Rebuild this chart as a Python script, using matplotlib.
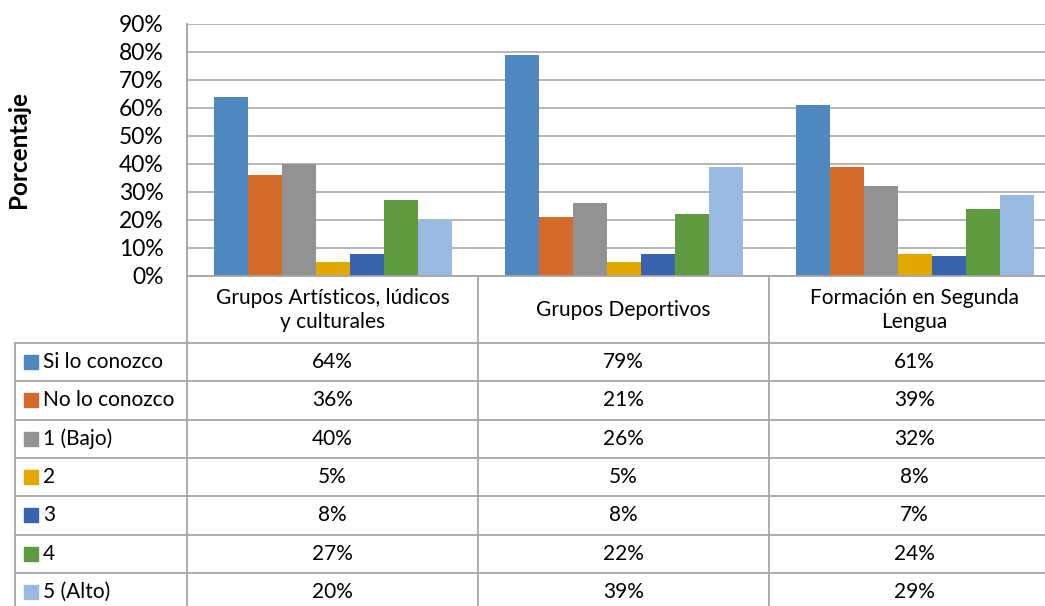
import matplotlib
matplotlib.use("Agg")
import matplotlib.pyplot as plt
import numpy as np

plt.rcParams['font.family'] = ['Lato', 'DejaVu Sans']

categories = ["Grupos Artísticos, lúdicos\ny culturales", "Grupos Deportivos",
              "Formación en Segunda\nLengua"]
series_names = ["Si lo conozco", "No lo conozco", "1 (Bajo)", "2", "3", "4", "5 (Alto)"]
si_lo_conozco = [64, 79, 61]
no_lo_conozco = [36, 21, 39]
nivel_1 = [40, 26, 32]
nivel_2 = [5, 5, 8]
nivel_3 = [8, 8, 7]
nivel_4 = [27, 22, 24]
nivel_5 = [20, 39, 29]
series_values = [si_lo_conozco, no_lo_conozco, nivel_1, nivel_2, nivel_3, nivel_4, nivel_5]
yticks = [0, 10, 20, 30, 40, 50, 60, 70, 80, 90]
colors = ["#4F88BE", "#D46B2B", "#929292", "#E3A800", "#3A63AD", "#5F9A40", "#98BAE0"]

W, H = 1045, 606
fig = plt.figure(figsize=(W / 100, H / 100), dpi=100)

# plot area in pixels
px_left, px_right, px_top, px_bot = 187, 1060, 24, 276
ax = fig.add_axes([px_left / W, 1 - px_bot / H, (px_right - px_left) / W, (px_bot - px_top) / H])
n_cat = len(categories)
n_ser = len(series_names)
bw = 34 / 291
x = np.arange(n_cat)
for i, (vals, c) in enumerate(zip(series_values, colors)):
    ax.bar(x + (i - (n_ser - 1) / 2) * bw, vals, width=bw, color=c, zorder=3,
           edgecolor='none')
ax.set_xlim(-0.5, n_cat - 0.5)
ax.set_ylim(0, 90)
ax.set_yticks(yticks)
ax.set_yticklabels([f"{v}%" for v in yticks], fontsize=16.5, color='black')
ax.tick_params(axis='y', length=0, pad=17)
ax.set_xticks([])
ax.grid(axis='y', color='#B0B0B0', linewidth=1.3, zorder=0)
for s in ['top', 'right', 'bottom']:
    ax.spines[s].set_visible(False)
ax.spines['left'].set_color('#A0A0A0')
ax.spines['left'].set_linewidth(1.3)
ax.set_ylabel("Porcentaje", fontsize=17.5, fontweight='bold')
ax.yaxis.set_label_coords((30 - px_left) / (px_right - px_left), 0.5)

# data table drawn in pixel coordinates
tax = fig.add_axes([0, 0, 1, 1])
tax.set_xlim(0, W)
tax.set_ylim(H, 0)
tax.axis('off')
lc = '#A6A6A6'
lw = 1.3
col_edges = [187, 478, 769, 1060]
header_top, header_bot = 276, 343
row_h = 38.3
tbl_left = 15
fs = 15
for xe in col_edges:
    tax.plot([xe, xe], [header_top, H + 10], color=lc, lw=lw)
tax.plot([px_left, W + 20], [header_top, header_top], color=lc, lw=lw)
tax.plot([tbl_left, tbl_left], [header_bot, H + 10], color=lc, lw=lw)
for j, cat in enumerate(categories):
    cx = (col_edges[j] + col_edges[j + 1]) / 2
    tax.text(cx, (header_top + header_bot) / 2 + 1, cat, ha='center', va='center',
             fontsize=fs, linespacing=1.25)
for i, name in enumerate(series_names):
    y0 = header_bot + i * row_h
    tax.plot([tbl_left, W + 20], [y0, y0], color=lc, lw=lw)
    yc = y0 + row_h / 2
    tax.add_patch(plt.Rectangle((24, yc - 7), 14, 14, color=colors[i]))
    tax.text(43, yc, name, ha='left', va='center', fontsize=fs)
    for j in range(n_cat):
        cx = (col_edges[j] + col_edges[j + 1]) / 2
        tax.text(cx, yc, f"{series_values[i][j]}%", ha='center', va='center', fontsize=fs)

fig.savefig("out.png", dpi=100)
